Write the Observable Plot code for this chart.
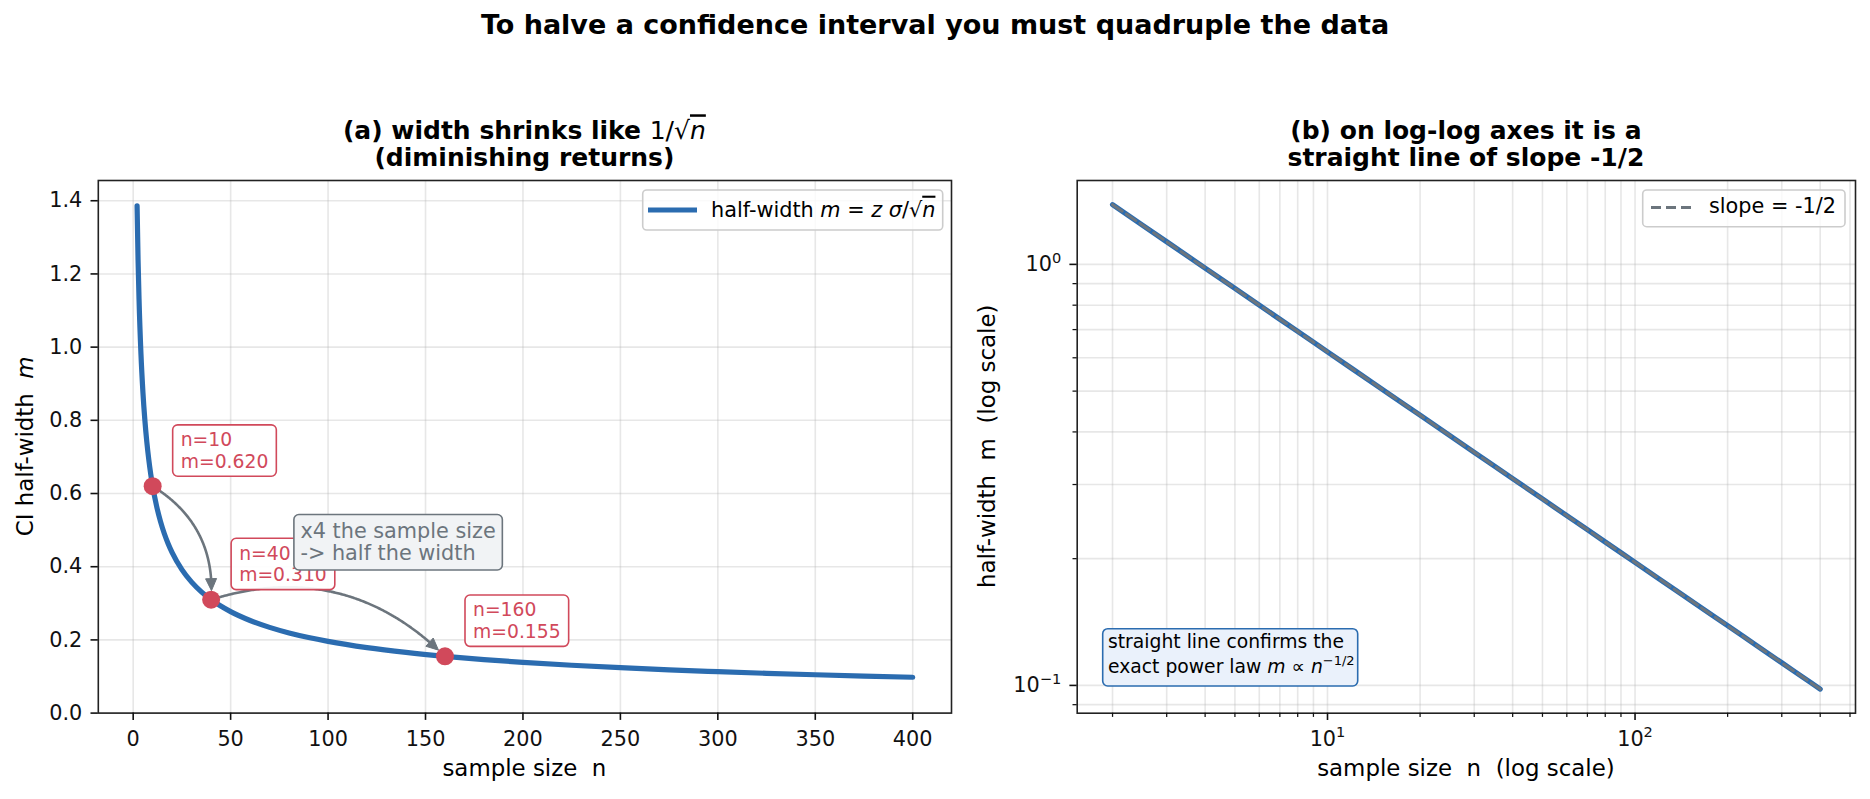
<!DOCTYPE html>
<html><head><meta charset="utf-8">
<script src="https://cdn.jsdelivr.net/npm/d3@7"></script>
<script src="https://cdn.jsdelivr.net/npm/@observablehq/plot@0.6"></script>
<style>
html,body{margin:0;padding:0;background:#fff;}
#chart{position:relative;width:1870px;height:799px;overflow:hidden;font-family:"DejaVu Sans",sans-serif;background:#fff;}
#chart > svg{position:absolute;top:0;}
</style></head><body><div id="chart"></div>
<script>
// ---------- data ----------
const sampleN   = [2, 2.5, 3, 4, 5, 6, 7, 8, 9, 10, 12, 14, 16, 18, 20, 25, 30, 35, 40, 50, 60, 70, 80, 90, 100, 120, 140, 160, 180, 200, 225, 250, 275, 300, 325, 350, 375, 400];
const halfWidth = [1.3859, 1.2396, 1.1316, 0.9800, 0.8765, 0.8002, 0.7408, 0.6930, 0.6533, 0.6198, 0.5658, 0.5238, 0.4900, 0.4620, 0.4383, 0.3920, 0.3578, 0.3313, 0.3099, 0.2772, 0.2530, 0.2343, 0.2191, 0.2066, 0.1960, 0.1789, 0.1657, 0.1550, 0.1461, 0.1386, 0.1307, 0.1240, 0.1182, 0.1132, 0.1087, 0.1048, 0.1012, 0.0980];
const markedN = [10, 40, 160];
const markedM = [0.620, 0.310, 0.155];
const slopeN = [2, 400];
const slopeM = [1.3859, 0.0980];
const xTicksA = [0, 50, 100, 150, 200, 250, 300, 350, 400];
const yTicksA = [0, 0.2, 0.4, 0.6, 0.8, 1.0, 1.2, 1.4];
const xLogMajor = [10, 100];
const xLogMinor = [2, 3, 4, 5, 6, 7, 8, 9, 20, 30, 40, 50, 60, 70, 80, 90, 200, 300, 400, 500];
const yLogMajor = [0.1, 1];
const yLogMinor = [0.09, 0.2, 0.3, 0.4, 0.5, 0.6, 0.7, 0.8, 0.9];
const noteText = "x4 the sample size\n-> half the width";

// ---------- derived tables ----------
const curveData = sampleN.map((n, i) => ({n, m: halfWidth[i]}));
const points = markedN.map((n, i) => ({n, m: markedM[i]}));
const jumps = points.slice(1).map((p, i) => ({x1: points[i].n, y1: points[i].m, x2: p.n, y2: p.m}));
const slopeData = slopeN.map((n, i) => ({n, m: slopeM[i]}));

// ---------- styles ----------
const BLUE = "#2b6cb0", RED = "#d1495b", GRAY = "#6c757d";
const FONT = "DejaVu Sans";
const gridStyle = {stroke: "#b0b0b0", strokeOpacity: 0.3, strokeWidth: 1.6};
const baseStyle = {fontFamily: FONT, fontSize: "20.8px", color: "#111", background: "transparent", overflow: "visible"};

// quadratic "arc3"-like connector, trimmed at the end, with separate head
function arcCurve(rad, trimEnd, headLen, headW, part) {
  return (ctx) => {
    let pts = [];
    return {
      areaStart() {}, areaEnd() {},
      lineStart() { pts = []; },
      point(x, y) { pts.push([+x, +y]); },
      lineEnd() {
        if (pts.length < 2) return;
        const [x1, y1] = pts[0], [x2, y2] = pts[pts.length - 1];
        const cx = (x1 + x2) / 2 + rad * (y2 - y1), cy = (y1 + y2) / 2 - rad * (x2 - x1);
        const N = 200, P = [], L = [0];
        for (let i = 0; i <= N; i++) {
          const t = i / N, u = 1 - t;
          P.push([u*u*x1 + 2*u*t*cx + t*t*x2, u*u*y1 + 2*u*t*cy + t*t*y2]);
          if (i) L.push(L[i-1] + Math.hypot(P[i][0]-P[i-1][0], P[i][1]-P[i-1][1]));
        }
        const total = L[N];
        const at = (s) => {
          let i = 1; while (i < N && L[i] < s) i++;
          const f = (s - L[i-1]) / ((L[i] - L[i-1]) || 1);
          return [P[i-1][0] + f*(P[i][0]-P[i-1][0]), P[i-1][1] + f*(P[i][1]-P[i-1][1])];
        };
        const tip = at(total - trimEnd), base = at(total - trimEnd - headLen);
        if (part === "shaft") {
          ctx.moveTo(P[0][0], P[0][1]);
          const sEnd = total - trimEnd - headLen + 2;
          for (let i = 1; i <= N && L[i] < sEnd; i++) ctx.lineTo(P[i][0], P[i][1]);
          const e = at(sEnd); ctx.lineTo(e[0], e[1]);
        } else {
          const dx = tip[0]-base[0], dy = tip[1]-base[1], d = Math.hypot(dx, dy) || 1;
          const nx = -dy/d*headW/2, ny = dx/d*headW/2;
          ctx.moveTo(tip[0], tip[1]);
          ctx.lineTo(base[0]+nx, base[1]+ny);
          ctx.lineTo(base[0]-nx, base[1]-ny);
          ctx.closePath();
        }
      }
    };
  };
}

const pow10 = d => "10^" + Math.round(Math.log10(d));

// ---------- left panel ----------
const left = Plot.plot({
  width: 970, height: 799,
  marginLeft: 97.8, marginRight: 19, marginTop: 180, marginBottom: 86.4,
  x: {domain: [-17.9, 419.9]},
  y: {domain: [0, 1.4553]},
  style: baseStyle,
  marks: [
    Plot.gridX(xTicksA, gridStyle),
    Plot.gridY(yTicksA, gridStyle),
    Plot.line(curveData, {x: "n", y: "m", stroke: BLUE, strokeWidth: 5.2, curve: "monotone-x"}),
    Plot.link(jumps, {x1: "x1", y1: "y1", x2: "x2", y2: "y2", stroke: GRAY, strokeWidth: 2.6, curve: arcCurve(0.3, 9, 12, 11, "shaft")}),
    Plot.link(jumps, {x1: "x1", y1: "y1", x2: "x2", y2: "y2", stroke: GRAY, fill: GRAY, strokeWidth: 1, strokeLinejoin: "miter", curve: arcCurve(0.3, 9, 12, 11, "head")}),
    Plot.dot(points, {x: "n", y: "m", r: 9, fill: RED}),
    Plot.text(points, {x: "n", y: "m", text: d => `n=${d.n}\nm=${d.m.toFixed(3)}`, dx: 28, dy: -55.5,
      textAnchor: "start", lineAnchor: "top", fill: RED, fontSize: 18.75, lineHeight: 1.16, fontFamily: FONT}),
    Plot.text([{n: 85.8, m: 0.522}], {x: "n", y: "m", text: () => noteText, textAnchor: "start", lineAnchor: "top",
      fill: GRAY, fontSize: 20.8, lineHeight: 1.08, fontFamily: FONT}),
    Plot.frame({stroke: "#222", strokeWidth: 1.6}),
    Plot.axisX(xTicksA, {tickSize: 7.3, tickPadding: 10.7, strokeWidth: 1.6, label: null, tickFormat: d => String(d)}),
    Plot.axisY(yTicksA, {tickSize: 7.3, tickPadding: 8.7, strokeWidth: 1.6, label: null, tickFormat: d => d.toFixed(1)})
  ]
});
left.style.left = "0px";

// ---------- right panel ----------
const right = Plot.plot({
  width: 900, height: 799,
  marginLeft: 106.7, marginRight: 15, marginTop: 180, marginBottom: 86.3,
  x: {type: "log", domain: [1.535, 521]},
  y: {type: "log", domain: [0.0859, 1.582]},
  style: baseStyle,
  marks: [
    Plot.gridX(xLogMajor.concat(xLogMinor), gridStyle),
    Plot.gridY(yLogMajor.concat(yLogMinor), gridStyle),
    Plot.line(curveData, {x: "n", y: "m", stroke: BLUE, strokeWidth: 5.2}),
    Plot.line(slopeData, {x: "n", y: "m", stroke: GRAY, strokeWidth: 3, strokeDasharray: "11.6 5"}),
    Plot.frame({stroke: "#222", strokeWidth: 1.6}),
    Plot.axisX(xLogMinor, {tickSize: 4.2, strokeWidth: 1.25, label: null, tickFormat: () => ""}),
    Plot.axisY(yLogMinor, {tickSize: 4.2, strokeWidth: 1.25, label: null, tickFormat: () => ""}),
    Plot.axisX(xLogMajor, {tickSize: 7.3, tickPadding: 10.7, strokeWidth: 1.6, label: null, tickFormat: pow10}),
    Plot.axisY(yLogMajor, {tickSize: 7.3, tickPadding: 8.7, strokeWidth: 1.6, label: null, tickFormat: pow10})
  ]
});
right.style.left = "970px";

const chart = document.getElementById("chart");
chart.appendChild(left);
chart.appendChild(right);

const NS = "http://www.w3.org/2000/svg";
// power-of-ten tick labels with real superscripts
right.querySelectorAll("text").forEach(t => {
  const s = t.textContent;
  if (!/^10\^/.test(s)) return;
  const exp = s.slice(3).replace("-", "−");
  while (t.firstChild) t.removeChild(t.firstChild);
  t.appendChild(document.createTextNode("10"));
  const sup = document.createElementNS(NS, "tspan");
  sup.setAttribute("font-size", "14.6");
  sup.setAttribute("dy", "-8.5");
  sup.textContent = exp;
  t.appendChild(sup);
});

// boxes behind annotation texts
const boxStyles = {
  [RED]: {fill: "#ffffff", fillOpacity: 0.92, stroke: RED, px: 8, py: 4.3},
  [GRAY]: {fill: "#f1f3f5", fillOpacity: 1, stroke: GRAY, px: 6.5, py: 4.5}
};
left.querySelectorAll('g[aria-label="text"]').forEach(g => {
  const st = boxStyles[g.getAttribute("fill")];
  if (!st) return;
  g.querySelectorAll("text").forEach(t => {
    const b = t.getBBox();
    const r = document.createElementNS(NS, "rect");
    r.setAttribute("x", b.x - st.px); r.setAttribute("y", b.y - st.py);
    r.setAttribute("width", b.width + 2 * st.px); r.setAttribute("height", b.height + 2 * st.py);
    r.setAttribute("rx", 5); r.setAttribute("fill", st.fill); r.setAttribute("fill-opacity", st.fillOpacity);
    r.setAttribute("stroke", st.stroke); r.setAttribute("stroke-width", 1.6);
    if (t.getAttribute("transform")) r.setAttribute("transform", t.getAttribute("transform"));
    g.insertBefore(r, t);
  });
});

// ---------- titles, labels, legends ----------
const ov = document.createElementNS(NS, "svg");
ov.setAttribute("width", 1870); ov.setAttribute("height", 799);
ov.style.left = "0px"; ov.style.pointerEvents = "none";
ov.setAttribute("font-family", FONT);
ov.innerHTML = `
<text x="935" y="34" text-anchor="middle" font-weight="bold" font-size="27" fill="#000">To halve a confidence interval you must quadruple the data</text>
<text x="524.4" y="139.3" text-anchor="middle" font-weight="bold" font-size="25" fill="#000">(a) width shrinks like <tspan font-weight="normal">1/√<tspan font-style="italic" style="text-decoration:overline">n</tspan></tspan></text>
<text x="524.4" y="166" text-anchor="middle" font-weight="bold" font-size="25" fill="#000">(diminishing returns)</text>
<text x="1465.9" y="139.3" text-anchor="middle" font-weight="bold" font-size="25" fill="#000">(b) on log-log axes it is a</text>
<text x="1465.9" y="166" text-anchor="middle" font-weight="bold" font-size="25" fill="#000">straight line of slope -1/2</text>
<text x="524.4" y="776" text-anchor="middle" font-size="22.9" fill="#000" xml:space="preserve">sample size  n</text>
<text x="1465.9" y="776" text-anchor="middle" font-size="22.9" fill="#000" xml:space="preserve">sample size  n  (log scale)</text>
<text transform="translate(32.5,446.3) rotate(-90)" text-anchor="middle" font-size="22.9" fill="#000" xml:space="preserve">CI half-width  <tspan font-style="italic">m</tspan></text>
<text transform="translate(995,446.3) rotate(-90)" text-anchor="middle" font-size="22.9" fill="#000" xml:space="preserve">half-width  m  (log scale)</text>
<rect x="642.7" y="190" width="300" height="40" rx="4" fill="#fff" fill-opacity="0.8" stroke="#cccccc" stroke-width="1.6"/>
<line x1="648" x2="697" y1="210" y2="210" stroke="${BLUE}" stroke-width="5.2"/>
<text x="711" y="216.7" font-size="20.8" fill="#000">half-width <tspan font-style="italic">m</tspan> = <tspan font-style="italic">z σ</tspan>/√<tspan font-style="italic" style="text-decoration:overline">n</tspan></text>
<rect x="1642.7" y="190" width="202.3" height="36.7" rx="4" fill="#fff" fill-opacity="0.8" stroke="#cccccc" stroke-width="1.6"/>
<line x1="1651" x2="1693" y1="207.5" y2="207.5" stroke="${GRAY}" stroke-width="3" stroke-dasharray="10 5"/>
<text x="1709" y="213.3" font-size="20.8" fill="#000">slope = -1/2</text>
<rect x="1102.7" y="628.7" width="255" height="57.3" rx="5" fill="#eaf1fb" stroke="${BLUE}" stroke-width="1.6"/>
<text x="1108" y="648.3" font-size="18.75" fill="#000">straight line confirms the</text>
<text x="1108" y="673.3" font-size="18.75" fill="#000">exact power law <tspan font-style="italic">m</tspan> ∝ <tspan font-style="italic">n</tspan><tspan font-size="13" dy="-8">−1/2</tspan></text>
`;
chart.appendChild(ov);
</script></body></html>
